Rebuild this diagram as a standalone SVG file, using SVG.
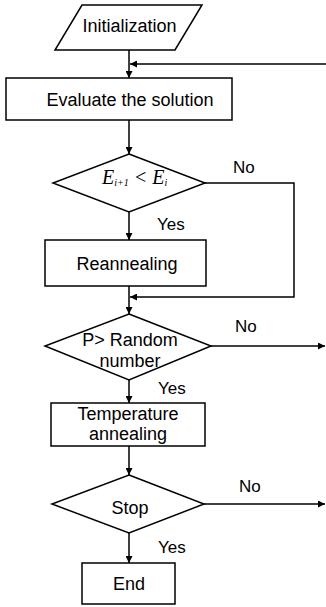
<svg xmlns="http://www.w3.org/2000/svg" width="326" height="607" viewBox="0 0 326 607">
<style>
.shape{fill:#fff;stroke:#000;stroke-width:1.5}
.t{font-family:"Liberation Sans",Arial,sans-serif;font-size:18px;fill:#000;text-anchor:middle}
.lbl{font-family:"Liberation Sans",Arial,sans-serif;font-size:17px;fill:#000}
.m{font-family:"Liberation Serif","Times New Roman",serif;font-style:italic;fill:#000}
.c{fill:none;stroke:#000;stroke-width:1.5}
</style>
<defs>
<marker id="ah" viewBox="0 0 10 10" refX="10" refY="5" markerWidth="7" markerHeight="7" markerUnits="userSpaceOnUse" orient="auto">
<path d="M0,0 L10,5 L0,10 z" fill="#000"/>
</marker>
</defs>
<rect width="326" height="607" fill="#fff"/>
<g id="connectors">
<line class="c" x1="129" y1="50" x2="129" y2="78" marker-end="url(#ah)"/>
<line class="c" x1="326" y1="64" x2="130" y2="64" marker-end="url(#ah)"/>
<line class="c" x1="129" y1="120" x2="129" y2="154" marker-end="url(#ah)"/>
<line class="c" x1="129" y1="212" x2="129" y2="240" marker-end="url(#ah)"/>
<polyline class="c" points="205,183 294,183 294,297 130,297" marker-end="url(#ah)"/>
<line class="c" x1="129" y1="286" x2="129" y2="314" marker-end="url(#ah)"/>
<line class="c" x1="211" y1="346" x2="325" y2="346" marker-end="url(#ah)"/>
<line class="c" x1="129" y1="380" x2="129" y2="403" marker-end="url(#ah)"/>
<line class="c" x1="129" y1="446" x2="129" y2="475" marker-end="url(#ah)"/>
<line class="c" x1="204" y1="504" x2="325" y2="504" marker-end="url(#ah)"/>
<line class="c" x1="129" y1="533" x2="129" y2="563" marker-end="url(#ah)"/>
<text class="lbl" x="233" y="173">No</text>
<text class="lbl" x="157" y="230">Yes</text>
<text class="lbl" x="235" y="332">No</text>
<text class="lbl" x="158" y="394">Yes</text>
<text class="lbl" x="239" y="492">No</text>
<text class="lbl" x="158" y="553">Yes</text>
</g>
<g id="init">
<polygon class="shape" points="82,5 202,5 175,50 55,50"/>
<text class="t" x="129.5" y="32">Initialization</text>
</g>
<g id="evaluate">
<rect class="shape" x="6" y="78" width="226" height="42"/>
<text class="t" x="130" y="106">Evaluate the solution</text>
</g>
<g id="cond1">
<polygon class="shape" points="129,154 205,183 129,212 53,183"/>
<text class="m" x="102" y="184" font-size="20">E<tspan font-size="10" dy="2">i+1</tspan><tspan font-size="20" dy="-2"> &lt; E</tspan><tspan font-size="10" dy="2">i</tspan></text>
</g>
<g id="reanneal">
<rect class="shape" x="45" y="240" width="161" height="46"/>
<text class="t" x="127" y="270">Reannealing</text>
</g>
<g id="cond2">
<polygon class="shape" points="129,314 211,346 129,380 45,346"/>
<text class="t" x="130" y="346">P&gt; Random</text>
<text class="t" x="130" y="367">number</text>
</g>
<g id="temp">
<rect class="shape" x="51" y="403" width="154" height="43"/>
<text class="t" x="128" y="420">Temperature</text>
<text class="t" x="128" y="440">annealing</text>
</g>
<g id="cond3">
<polygon class="shape" points="129,475 204,504 129,533 52,504"/>
<text class="t" x="130" y="514">Stop</text>
</g>
<g id="end">
<rect class="shape" x="82" y="563" width="93" height="41"/>
<text class="t" x="129" y="590">End</text>
</g>
</svg>
